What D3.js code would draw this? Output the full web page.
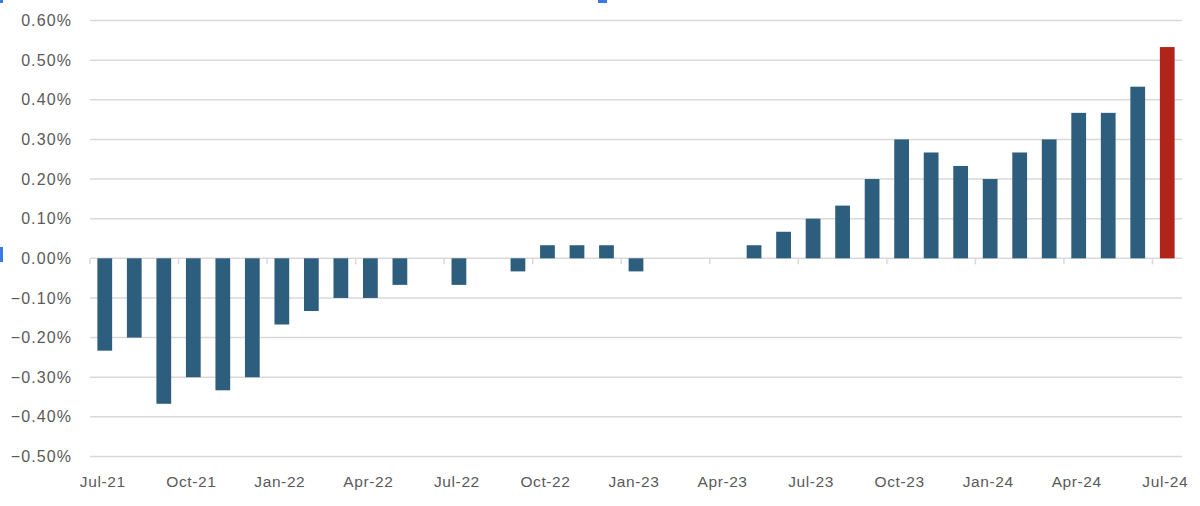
<!DOCTYPE html>
<html>
<head>
<meta charset="utf-8">
<script src="https://cdn.jsdelivr.net/npm/d3@7"></script>
<style>
    body { margin: 0; background: #fff; }
    svg { display: block; }
    text { font-family: "Liberation Sans", Arial, sans-serif; }
</style>
</head>
<body>
<div id="chart"></div>
<script>
// monthly change, percent
var months = ["Jul-21","Aug-21","Sep-21","Oct-21","Nov-21","Dec-21",
    "Jan-22","Feb-22","Mar-22","Apr-22","May-22","Jun-22",
    "Jul-22","Aug-22","Sep-22","Oct-22","Nov-22","Dec-22",
    "Jan-23","Feb-23","Mar-23","Apr-23","May-23","Jun-23",
    "Jul-23","Aug-23","Sep-23","Oct-23","Nov-23","Dec-23",
    "Jan-24","Feb-24","Mar-24","Apr-24","May-24","Jun-24","Jul-24"];
var values = [-0.233, -0.200, -0.367, -0.300, -0.333, -0.300,
    -0.167, -0.133, -0.100, -0.100, -0.067, 0,
    -0.067, 0, -0.033, 0.033, 0.033, 0.033,
    -0.033, 0, 0, 0, 0.033, 0.067,
    0.100, 0.133, 0.200, 0.300, 0.267, 0.233,
    0.200, 0.267, 0.300, 0.367, 0.367, 0.433, 0.533];
var tickLabels = ["Jul-21","Oct-21","Jan-22","Apr-22","Jul-22","Oct-22","Jan-23",
    "Apr-23","Jul-23","Oct-23","Jan-24","Apr-24","Jul-24"];
var yTicks = [0.6, 0.5, 0.4, 0.3, 0.2, 0.1, 0, -0.1, -0.2, -0.3, -0.4, -0.5];
var highlight = "Jul-24";

var width = 1200, height = 506;
var blue = "#2e5e7e", red = "#b0241a", grid = "#d9d9d9", textColor = "#5a5a5a";

var svg = d3.select("#chart").append("svg")
    .attr("width", width).attr("height", height);

var x = d3.scaleBand().domain(months).range([90, 1182])
    .paddingInner(0.5).paddingOuter(0.25);
var y = d3.scaleLinear().domain([-0.5, 0.6]).range([456.5, 20.5]);

// gridlines
svg.append("g").selectAll("line").data(yTicks).enter().append("line")
    .attr("x1", 90).attr("x2", 1182)
    .attr("y1", function (d) { return y(d); })
    .attr("y2", function (d) { return y(d); })
    .attr("stroke", grid).attr("stroke-width", 1.5);

// y labels
svg.append("g").selectAll("text").data(yTicks).enter().append("text")
    .attr("x", 72).attr("y", function (d) { return y(d); })
    .attr("dy", "0.35em")
    .attr("text-anchor", "end")
    .attr("fill", textColor)
    .style("font-size", "16px")
    .style("letter-spacing", "1.1px")
    .text(function (d) { return d3.format(".2f")(d) + "%"; });

// bars
svg.append("g").selectAll("rect").data(months).enter().append("rect")
    .attr("x", function (d) { return x(d); })
    .attr("width", x.bandwidth())
    .attr("y", function (d, i) { return y(Math.max(0, values[i])); })
    .attr("height", function (d, i) { return Math.abs(y(values[i]) - y(0)); })
    .attr("fill", function (d) { return d == highlight ? red : blue; });

// category ticks at quarter starts
var step = x.step(), gap = step - x.bandwidth();
svg.append("g").selectAll("line").data(tickLabels).enter().append("line")
    .attr("x1", function (d) { return x(d) - gap / 2; })
    .attr("x2", function (d) { return x(d) - gap / 2; })
    .attr("y1", y(0)).attr("y2", y(0) + 6)
    .attr("stroke", grid).attr("stroke-width", 1.5);

// x labels
svg.append("g").selectAll("text").data(tickLabels).enter().append("text")
    .attr("x", function (d) { return x(d) + x.bandwidth() / 2 - 2; })
    .attr("y", 482).attr("dy", "0.35em")
    .attr("text-anchor", "middle")
    .attr("fill", textColor)
    .style("font-size", "15.5px")
    .style("letter-spacing", "0.6px")
    .text(function (d) { return d; });

// selection handles
var handles = [[0, 0, 3, 3], [598, 0, 9, 3], [0, 247, 3, 15]];
svg.append("g").selectAll("rect").data(handles).enter().append("rect")
    .attr("x", function (d) { return d[0]; }).attr("y", function (d) { return d[1]; })
    .attr("width", function (d) { return d[2]; }).attr("height", function (d) { return d[3]; })
    .attr("fill", "#3b78e7");
</script>
</body>
</html>
